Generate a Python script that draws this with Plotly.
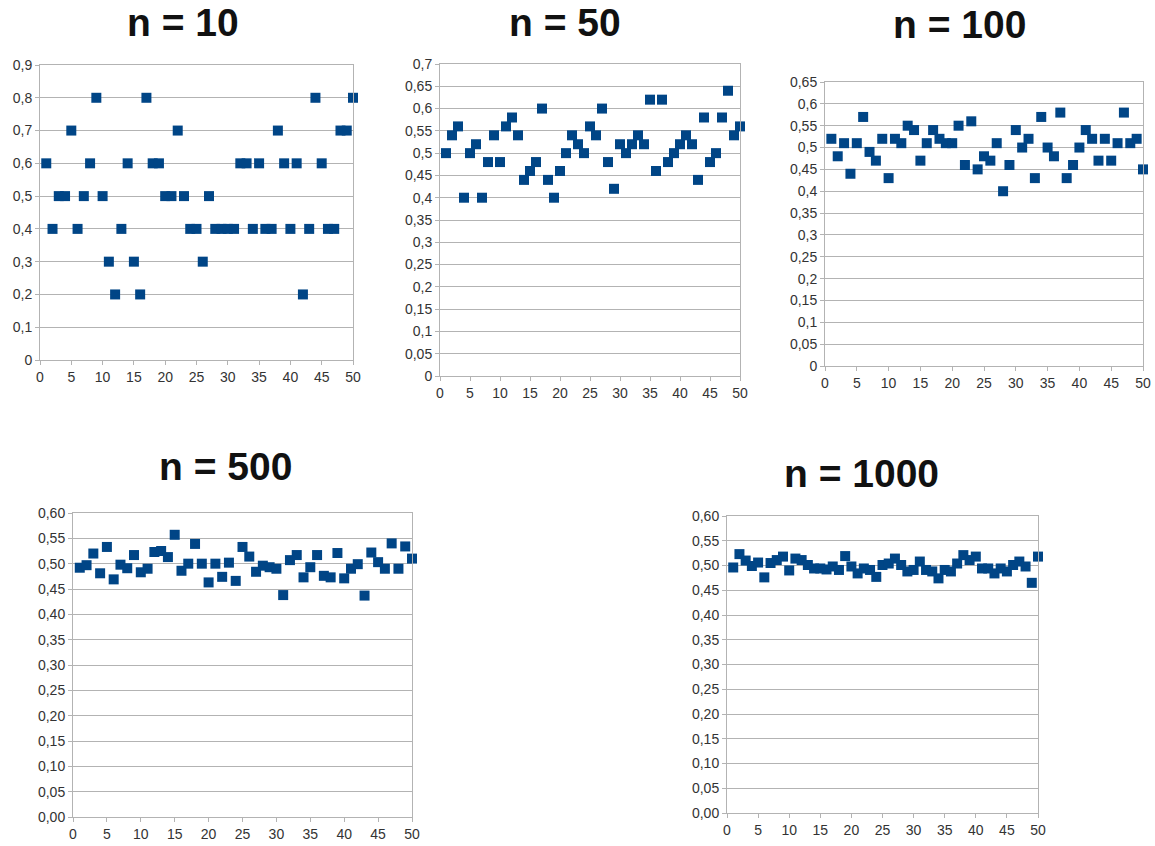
import plotly.graph_objects as go

W, H = 1155, 846

x_vals = list(range(1, 51))

n10 = [0.6, 0.4, 0.5, 0.5, 0.7, 0.4, 0.5, 0.6, 0.8, 0.5,
       0.3, 0.2, 0.4, 0.6, 0.3, 0.2, 0.8, 0.6, 0.6, 0.5,
       0.5, 0.7, 0.5, 0.4, 0.4, 0.3, 0.5, 0.4, 0.4, 0.4,
       0.4, 0.6, 0.6, 0.4, 0.6, 0.4, 0.4, 0.7, 0.6, 0.4,
       0.6, 0.2, 0.4, 0.8, 0.6, 0.4, 0.4, 0.7, 0.7, 0.8]

n50 = [0.50, 0.54, 0.56, 0.40, 0.50, 0.52, 0.40, 0.48, 0.54, 0.48,
       0.56, 0.58, 0.54, 0.44, 0.46, 0.48, 0.60, 0.44, 0.40, 0.46,
       0.50, 0.54, 0.52, 0.50, 0.56, 0.54, 0.60, 0.48, 0.42, 0.52,
       0.50, 0.52, 0.54, 0.52, 0.62, 0.46, 0.62, 0.48, 0.50, 0.52,
       0.54, 0.52, 0.44, 0.58, 0.48, 0.50, 0.58, 0.64, 0.54, 0.56]

n100 = [0.52, 0.48, 0.51, 0.44, 0.51, 0.57, 0.49, 0.47, 0.52, 0.43,
        0.52, 0.51, 0.55, 0.54, 0.47, 0.51, 0.54, 0.52, 0.51, 0.51,
        0.55, 0.46, 0.56, 0.45, 0.48, 0.47, 0.51, 0.40, 0.46, 0.54,
        0.50, 0.52, 0.43, 0.57, 0.50, 0.48, 0.58, 0.43, 0.46, 0.50,
        0.54, 0.52, 0.47, 0.52, 0.47, 0.51, 0.58, 0.51, 0.52, 0.45]

n500 = [0.492, 0.497, 0.520, 0.481, 0.533, 0.469, 0.498, 0.491, 0.517, 0.483,
        0.490, 0.523, 0.525, 0.513, 0.557, 0.486, 0.500, 0.539, 0.500, 0.463,
        0.500, 0.474, 0.502, 0.466, 0.533, 0.514, 0.484, 0.496, 0.493, 0.490,
        0.438, 0.507, 0.517, 0.473, 0.493, 0.517, 0.476, 0.473, 0.521, 0.471,
        0.490, 0.499, 0.437, 0.522, 0.503, 0.490, 0.540, 0.490, 0.534, 0.510]

n1000 = [0.496, 0.523, 0.510, 0.499, 0.506, 0.476, 0.505, 0.511, 0.518, 0.490,
         0.514, 0.511, 0.501, 0.494, 0.494, 0.492, 0.498, 0.491, 0.519, 0.498,
         0.484, 0.494, 0.491, 0.477, 0.501, 0.504, 0.514, 0.501, 0.488, 0.491,
         0.508, 0.491, 0.488, 0.474, 0.491, 0.488, 0.504, 0.521, 0.511, 0.518,
         0.494, 0.494, 0.484, 0.494, 0.488, 0.501, 0.508, 0.498, 0.465, 0.518]

titles = ["n = 10", "n = 50", "n = 100", "n = 500", "n = 1000"]
series = [n10, n50, n100, n500, n1000]
y_max = [0.9, 0.7, 0.65, 0.6, 0.6]
y_step = [0.1, 0.05, 0.05, 0.05, 0.05]
y_fmt = ["", "", "", ".2f", ".2f"]

# plot-area boxes in pixels: (left, right, top, bottom)
boxes = [(40, 353, 65, 360), (440, 740, 64, 376), (825, 1143, 82, 366),
         (73, 412, 513, 817), (727, 1038, 516, 813)]
title_pos = [(183, 23), (565, 23), (959, 25), (225, 467), (861, 473)]

BLUE = "#004586"
GRID = "#b3b3b3"
TICK_FONT = dict(size=14, color="#333333")

fig = go.Figure()
layout = dict(width=W, height=H, margin=dict(l=0, r=0, t=0, b=0),
              paper_bgcolor="white", plot_bgcolor="white",
              separators=",.", showlegend=False,
              font=dict(family="Liberation Sans, Arial, sans-serif", size=14, color="#333333"))
annotations = []
for i, (ys, box) in enumerate(zip(series, boxes)):
    k = "" if i == 0 else str(i + 1)
    fig.add_trace(go.Scatter(x=x_vals, y=ys, mode="markers", xaxis="x" + k, yaxis="y" + k,
                             marker=dict(symbol="square", size=10, color=BLUE, line=dict(width=0)),
                             cliponaxis=False, hoverinfo="x+y"))
    l, r, t, b = box
    layout["xaxis" + k] = dict(domain=[l / W, r / W], range=[0, 50], dtick=5, tick0=0,
                               anchor="y" + k, showgrid=False, zeroline=False,
                               showline=True, linecolor=GRID, linewidth=1, mirror=True,
                               ticks="outside", ticklen=4, tickcolor=GRID, automargin=False,
                               tickfont=TICK_FONT)
    ya = dict(domain=[1 - b / H, 1 - t / H], range=[0, y_max[i]], dtick=y_step[i], tick0=0,
              anchor="x" + k, showgrid=True, gridcolor=GRID, gridwidth=1, zeroline=False,
              showline=True, linecolor=GRID, linewidth=1, mirror=True,
              ticks="outside", ticklen=4, tickcolor=GRID, automargin=False,
              tickfont=TICK_FONT)
    if y_fmt[i]:
        ya["tickformat"] = y_fmt[i]
    layout["yaxis" + k] = ya
    tx, ty = title_pos[i]
    annotations.append(dict(text="<b>" + titles[i] + "</b>", x=tx / W, y=1 - ty / H,
                            xref="paper", yref="paper", xanchor="center", yanchor="middle",
                            showarrow=False,
                            font=dict(family="Liberation Sans, Arial, sans-serif", size=39, color="#111111")))
layout["annotations"] = annotations
fig.update_layout(**layout)
fig.write_html("out.html", config={"displayModeBar": False},
               post_script="document.body.style.margin='0px';document.body.style.overflow='hidden';")
